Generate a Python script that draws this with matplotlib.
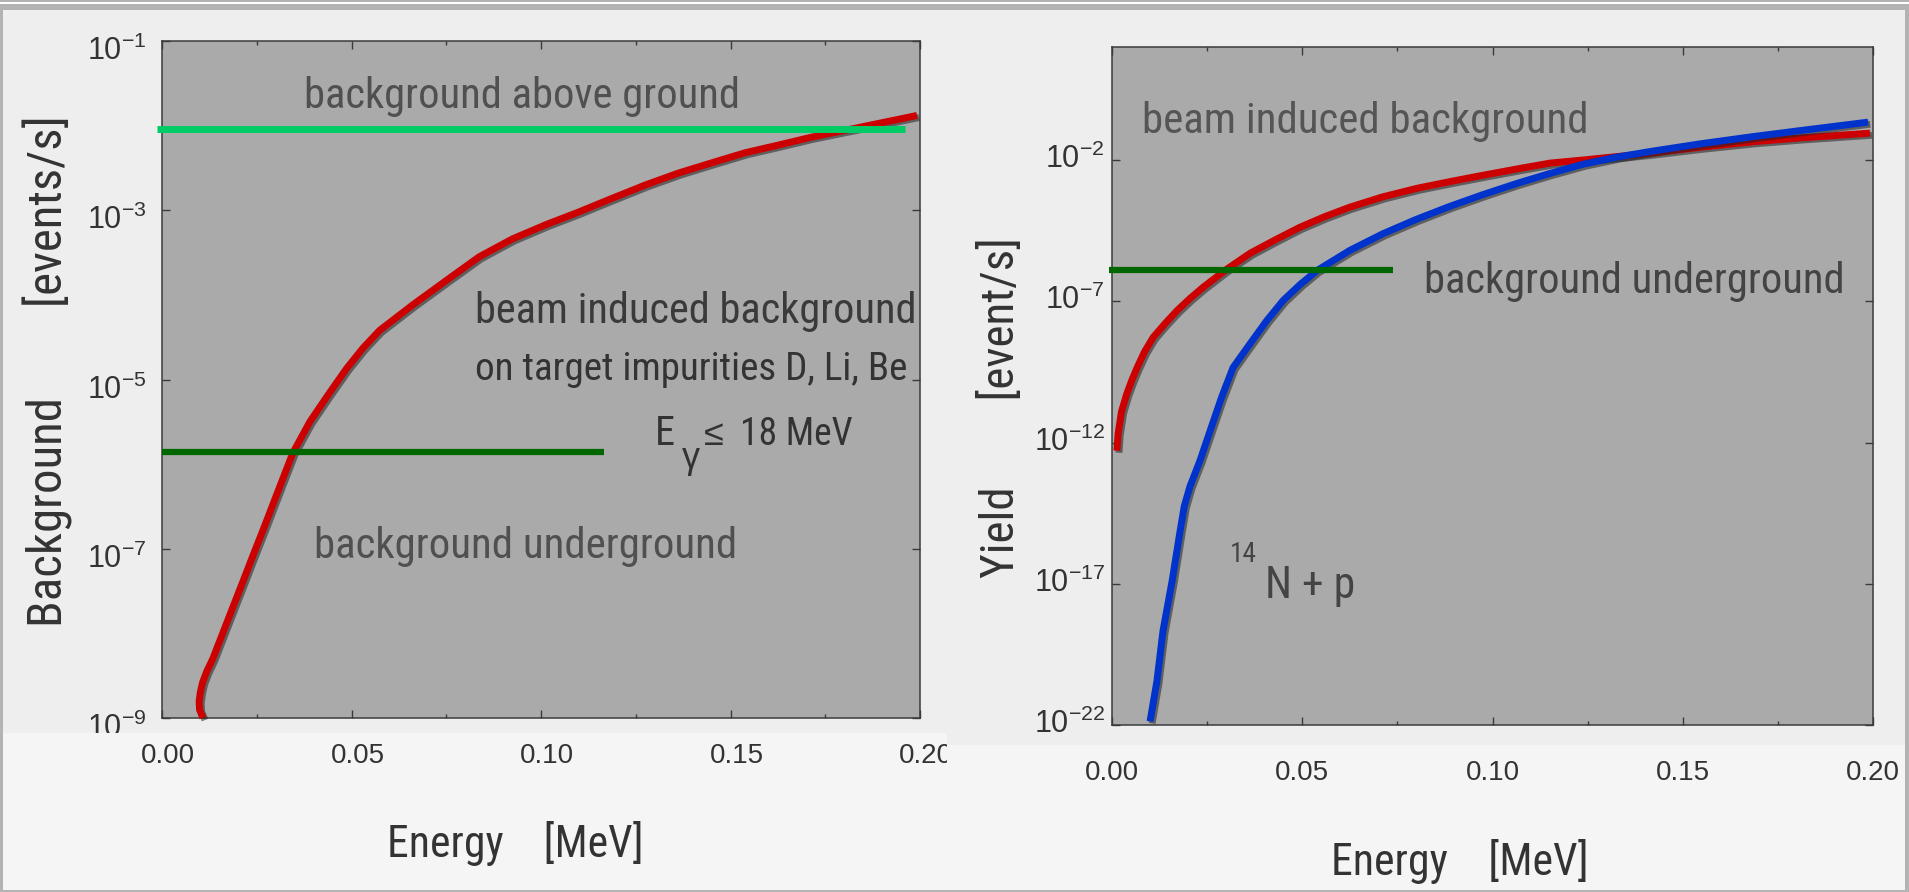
import os
import numpy as np
import matplotlib
matplotlib.use('Agg')
import matplotlib.pyplot as plt
import matplotlib.patheffects as pe
from matplotlib import font_manager as fm
from matplotlib.font_manager import FontProperties
from matplotlib.textpath import TextPath
from matplotlib.patches import Rectangle
from matplotlib.ticker import FixedLocator, FixedFormatter, MultipleLocator, FormatStrFormatter
from matplotlib.transforms import Bbox, TransformedBbox, ScaledTranslation

REGULAR = ['Liberation Sans', 'DejaVu Sans']
plt.rcParams['font.family'] = REGULAR
plt.rcParams['mathtext.fontset'] = 'custom'
plt.rcParams['mathtext.rm'] = 'Liberation Sans'
plt.rcParams['mathtext.it'] = 'Liberation Sans:italic'

# ---- left panel: background [events/s] vs energy [MeV]
e_beam_left = [0.0108, 0.0099, 0.0098, 0.0101, 0.0107, 0.0118, 0.0134, 0.0160,
               0.0187, 0.0215, 0.0240, 0.0270, 0.0300, 0.0345, 0.0390, 0.0440,
               0.0487, 0.0530, 0.0574, 0.0661, 0.0750, 0.0837, 0.0924, 0.1013,
               0.1100, 0.1187, 0.1276, 0.1363, 0.1450, 0.1539, 0.1626, 0.1710,
               0.1830, 0.1992]
log_beam_left = [-9.00, -8.90, -8.80, -8.70, -8.58, -8.45, -8.30, -8.00,
                 -7.69, -7.37, -7.08, -6.74, -6.39, -5.87, -5.50, -5.17,
                 -4.87, -4.63, -4.42, -4.12, -3.83, -3.55, -3.34, -3.17,
                 -3.02, -2.86, -2.70, -2.56, -2.44, -2.32, -2.23, -2.14,
                 -2.03, -1.88]
above_e = [-0.0013, 0.196]
above_bg = [9.2e-3, 9.2e-3]
under_e_left = [0.0, 0.1166]
under_bg_left = [1.4e-6, 1.4e-6]
yticks_left = [1e-9, 1e-7, 1e-5, 1e-3, 1e-1]
ylabels_left = ['-9', '-7', '-5', '-3', '-1']

# ---- right panel: yield [event/s] vs energy [MeV]
e_beam_right = [0.0013, 0.0016, 0.0025, 0.0039, 0.0052, 0.0066, 0.0085, 0.0108,
                0.0140, 0.0171, 0.0205, 0.0239, 0.0300, 0.0363, 0.0430, 0.0494,
                0.0560, 0.0625, 0.0710, 0.0802, 0.0890, 0.0975, 0.1063, 0.1151,
                0.1238, 0.1414, 0.1545, 0.1680, 0.1808, 0.1992]
log_beam_right = [-12.29, -11.69, -10.90, -10.27, -9.80, -9.35, -8.80, -8.28,
                  -7.78, -7.33, -6.90, -6.51, -5.88, -5.30, -4.82, -4.38,
                  -4.00, -3.67, -3.31, -3.00, -2.76, -2.54, -2.32, -2.11,
                  -2.00, -1.76, -1.55, -1.36, -1.22, -1.05]
e_np = [0.0100, 0.0118, 0.0134, 0.0158, 0.0179, 0.0190, 0.0205, 0.0231, 0.0258,
        0.0288, 0.0318, 0.0363, 0.0407, 0.0450, 0.0495, 0.0539, 0.0625, 0.0712,
        0.0800, 0.0888, 0.0976, 0.1064, 0.1150, 0.1238, 0.1326, 0.1414, 0.1545,
        0.1680, 0.1808, 0.1987]
log_np = [-21.87, -20.45, -18.67, -16.90, -15.13, -14.25, -13.55, -12.65, -11.58,
          -10.40, -9.35, -8.50, -7.68, -6.97, -6.40, -5.91, -5.20, -4.61,
          -4.10, -3.64, -3.22, -2.83, -2.48, -2.15, -1.90, -1.70, -1.43,
          -1.18, -0.96, -0.66]
under_e_right = [-0.0008, 0.0739]
under_yield_right = [1.3e-6, 1.3e-6]
yticks_right = [1e-22, 1e-17, 1e-12, 1e-7, 1e-2]
ylabels_right = ['-22', '-17', '-12', '-7', '-2']

RED = '#cc0000'
BLUE = '#0033cc'
LGREEN = '#00cc66'
DGREEN = '#006600'
shadow = [pe.SimpleLineShadow(offset=(1.5, -1.5), shadow_color='#222222', alpha=0.55),
          pe.Normal()]


# the scan uses a narrow grotesque: pick the installed sans face whose
# width/height ratio is closest to it
def pick_narrow():
    heads = ('Liberation Sans', 'DejaVu Sans', 'Roboto', 'Open Sans', 'Lato',
             'Inter', 'Noto Sans', 'Arial', 'Nimbus Sans', 'FreeSans')
    okwords = {'condensed', 'semicondensed', 'extracondensed', 'narrow',
               'semi', 'extra', 'cond'}
    badfile = ('bold', 'italic', 'oblique', 'light', 'thin', 'medium', 'black',
               'heavy', 'mono')
    best, bestd = None, 1e9
    seen = set()
    for f in fm.fontManager.ttflist:
        head = next((h for h in heads if f.name.startswith(h)), None)
        if head is None or f.fname in seen:
            continue
        rest = f.name[len(head):].replace('-', ' ').lower().split()
        if any(w not in okwords for w in rest):
            continue
        fn = os.path.basename(f.fname).lower()
        if any(k in fn for k in badfile) or f.style != 'normal':
            continue
        seen.add(f.fname)
        try:
            fp = FontProperties(fname=f.fname)
            wid = TextPath((0, 0), 'background above ground', size=100,
                           prop=fp).get_extents().width
            hgt = TextPath((0, 0), 'b', size=100, prop=fp).get_extents().height
        except Exception:
            continue
        d = abs(wid / hgt - 11.9)
        if d < bestd:
            best, bestd = f.fname, d
    if best is None:
        return FontProperties(family=REGULAR)
    return FontProperties(fname=best)


NFP = pick_narrow()

W, H = 1909, 892
fig = plt.figure(figsize=(W / 100, H / 100), dpi=100, facecolor='#eeeeee')


def rect_px(x, y, w, h, color, z=-1):
    fig.add_artist(Rectangle((x / W, 1 - (y + h) / H), w / W, h / H,
                             transform=fig.transFigure, facecolor=color,
                             edgecolor='none', zorder=z))


def shift(dx, dy):
    return ScaledTranslation(dx / 100, dy / 100, fig.dpi_scale_trans)


# lighter pasted strips under the energy axes
rect_px(0, 733, 947, 159, '#f5f5f5')
rect_px(947, 745, 962, 147, '#f5f5f5')

axL = fig.add_axes([162 / W, 1 - 718 / H, 758 / W, 677 / H])
axR = fig.add_axes([1112 / W, 1 - 725 / H, 761 / W, 678 / H])


def style(ax, yticks, ylabels, ypad, xpad):
    ax.set_facecolor('#aaaaaa')
    ax.set_yscale('log')
    ax.set_xlim(0, 0.2)
    ax.xaxis.set_major_locator(MultipleLocator(0.05))
    ax.xaxis.set_minor_locator(MultipleLocator(0.025))
    ax.xaxis.set_major_formatter(FormatStrFormatter('%.2f'))
    ax.yaxis.set_major_locator(FixedLocator(yticks))
    ax.yaxis.set_major_formatter(FixedFormatter(
        [r'$\mathregular{10^{%s}}$' % s for s in ylabels]))
    ax.yaxis.set_minor_locator(FixedLocator([]))
    for sp in ax.spines.values():
        sp.set_color('#3a3a3a')
        sp.set_linewidth(1.1)
    ax.tick_params(which='both', direction='in', top=True, right=True,
                   color='#3a3a3a', width=1.0)
    ax.tick_params(which='major', length=5.5)
    ax.tick_params(which='minor', length=3)
    ax.tick_params(axis='y', pad=ypad, labelsize=22, labelcolor='#333333')
    ax.tick_params(axis='x', pad=xpad, labelsize=20, labelcolor='#333333')


style(axL, yticks_left, ylabels_left, 11, 18)
style(axR, yticks_right, ylabels_right, 5, 25)
axL.set_ylim(1e-9, 1e-1)
axR.set_ylim(1e-22, 1e2)

# left panel curves
axL.plot(e_beam_left, 10 ** np.array(log_beam_left), color=RED, lw=5,
         solid_capstyle='butt', path_effects=shadow, clip_on=False, zorder=4)
axL.plot(above_e, above_bg, color=LGREEN, lw=5, solid_capstyle='butt',
         clip_on=False, zorder=5)
axL.plot(under_e_left, under_bg_left, color=DGREEN, lw=4.5,
         solid_capstyle='butt', clip_on=False, zorder=5)

# right panel curves
axR.plot(e_beam_right, 10 ** np.array(log_beam_right), color=RED, lw=5,
         solid_capstyle='butt', path_effects=shadow, clip_on=False, zorder=4)
axR.plot(e_np, 10 ** np.array(log_np), color=BLUE, lw=5,
         solid_capstyle='butt', path_effects=shadow, clip_on=False, zorder=4)
axR.plot(under_e_right, under_yield_right, color=DGREEN, lw=4.5,
         solid_capstyle='butt', clip_on=False, zorder=5)

fits = []  # (text, wanted extent in pixels)


def note(ax, x, y, s, width, color, size=30):
    t = ax.text(x, y, s, transform=ax.transAxes, fontproperties=NFP,
                fontsize=size, color=color, va='baseline')
    if width:
        fits.append((t, width))
    return t


# annotations, left
note(axL, 0.1873, 0.901, 'background above ground', 436, '#505050')
note(axL, 0.4129, 0.5835, 'beam induced background', 441, '#3a3a3a')
note(axL, 0.4129, 0.4993, 'on target impurities D, Li, Be', 432, '#333333')
note(axL, 0.6504, 0.4033, 'E', None, '#333333', size=29)
axL.text(0.6860, 0.3693, '\u03b3', transform=axL.transAxes, family=REGULAR,
         fontsize=26, color='#333333', va='baseline')
axL.text(0.7150, 0.4033, '\u2264', transform=axL.transAxes, family=REGULAR,
         fontsize=26, color='#333333', va='baseline')
note(axL, 0.7625, 0.4033, '18 MeV', None, '#333333', size=27)
note(axL, 0.2005, 0.2363, 'background underground', 423, '#505050')

# annotations, right
note(axR, 0.0394, 0.873, 'beam induced background', 447, '#555555')
note(axR, 0.41, 0.637, 'background underground', 421, '#444444')
note(axR, 0.155, 0.2404, '14', 27, '#444444')
note(axR, 0.201, 0.1873, 'N + p', 90, '#444444')

# axis labels
axL.set_ylabel('Background        [events/s]', fontproperties=NFP,
               fontsize=33, color='#333333')
axL.yaxis.label.set_va('center')
axL.yaxis.set_label_coords(-0.150, 0.5126)
axL.set_xlabel('Energy    [MeV]', fontproperties=NFP, fontsize=33,
               color='#333333')
axL.xaxis.label.set_va('center')
axL.xaxis.set_label_coords(0.4657, -0.186)

axR.set_ylabel('Yield        [event/s]', fontproperties=NFP, fontsize=33,
               color='#333333')
axR.yaxis.label.set_va('center')
axR.yaxis.set_label_coords(-0.147, 0.4676)
axR.set_xlabel('Energy    [MeV]', fontproperties=NFP, fontsize=33,
               color='#333333')
axR.xaxis.label.set_va('center')
axR.xaxis.set_label_coords(0.4573, -0.202)
fits += [(axL.yaxis.label, 511), (axL.xaxis.label, 256),
         (axR.yaxis.label, 341), (axR.xaxis.label, 258)]

# grey frame round the picture
rect_px(0, 0, W, 10, '#b3b3b3', z=10)
rect_px(0, 2, W, 1.5, '#ffffff', z=11)
rect_px(0, 0, 3, H, '#b3b3b3', z=10)
rect_px(W - 4, 0, 4, H, '#b3b3b3', z=10)
rect_px(0, H - 2, W, 2, '#b3b3b3', z=10)

# size the scanned-looking texts to the widths they have in the figure
fig.canvas.draw()
rend = fig.canvas.get_renderer()
for t, want in fits:
    bb = t.get_window_extent(rend)
    got = bb.height if t.get_rotation() == 90 else bb.width
    t.set_fontsize(t.get_fontsize() * want / got)

# tick labels sit a little off their ticks in the scan
for lab in axL.get_xticklabels():
    lab.set_transform(lab.get_transform() + shift(6, 0))
for lab in axL.get_yticklabels():
    lab.set_transform(lab.get_transform() + shift(0, -7))
for lab in axR.get_yticklabels():
    lab.set_transform(lab.get_transform() + shift(0, 4))

# the pasted strips cut a couple of labels
for tk in axL.yaxis.get_major_ticks():
    if '-9' in tk.label1.get_text():
        tk.label1.set_clip_box(TransformedBbox(
            Bbox.from_extents(0, 1 - 733 / H, 1, 1), fig.transFigure))
        tk.label1.set_clip_on(True)
for tk in axL.xaxis.get_major_ticks():
    if tk.label1.get_text() == '0.20':
        tk.label1.set_clip_box(TransformedBbox(
            Bbox.from_extents(0, 0, 947 / W, 1), fig.transFigure))
        tk.label1.set_clip_on(True)

fig.savefig('out.png', dpi=100, facecolor=fig.get_facecolor())
